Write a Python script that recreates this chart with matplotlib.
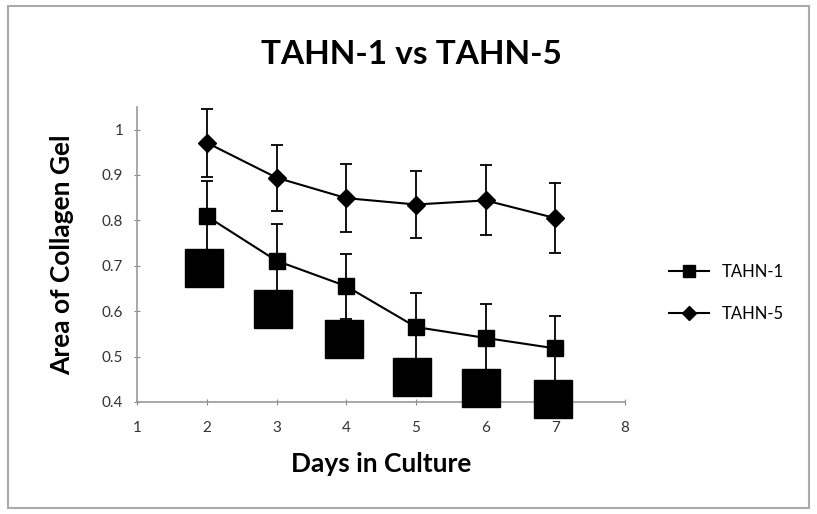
import numpy as np
import matplotlib.pyplot as plt
from matplotlib.patches import Rectangle

# data
days = [2, 3, 4, 5, 6, 7]
tahn1 = [0.809, 0.711, 0.655, 0.565, 0.541, 0.518]
tahn1_err = [0.077, 0.080, 0.072, 0.075, 0.075, 0.072]
tahn5 = [0.971, 0.894, 0.849, 0.835, 0.844, 0.805]
tahn5_err = [0.075, 0.073, 0.075, 0.074, 0.077, 0.077]
# the big black squares (no legend entry)
big_x = [1.96, 2.95, 3.97, 4.95, 5.94, 6.96]
big_y = [0.695, 0.604, 0.538, 0.456, 0.431, 0.406]

xticks = [1, 2, 3, 4, 5, 6, 7, 8]
yticks = [0.4, 0.5, 0.6, 0.7, 0.8, 0.9, 1.0]
ytick_labels = ['0.4', '0.5', '0.6', '0.7', '0.8', '0.9', '1']

plt.rcParams['font.family'] = ['Lato', 'DejaVu Sans']

fig = plt.figure(figsize=(8.17, 5.14), dpi=100)
ax = fig.add_axes([0.168, 0.218, 0.597, 0.574])

ax.errorbar(days, tahn1, yerr=tahn1_err, color='black', lw=1.5, marker='s', ms=11,
            capsize=4, elinewidth=1.3, capthick=1.3, label='TAHN-1', zorder=3)
ax.errorbar(days, tahn5, yerr=tahn5_err, color='black', lw=1.5, marker='D', ms=9,
            capsize=4, elinewidth=1.3, capthick=1.3, label='TAHN-5', zorder=3)
ax.plot(big_x, big_y, ls='none', marker='s', ms=27, color='black', zorder=4,
        clip_on=False)

ax.set_xlim(1, 8)
ax.set_ylim(0.4, 1.05)
ax.set_xticks(xticks)
ax.set_yticks(yticks)
ax.set_yticklabels(ytick_labels)
ax.tick_params(axis='both', colors='#888888', labelcolor='#333333', labelsize=11,
               length=4, direction='inout')
ax.tick_params(axis='x', pad=12)
ax.tick_params(axis='y', pad=8)
for s in ['top', 'right']:
    ax.spines[s].set_visible(False)
for s in ['left', 'bottom']:
    ax.spines[s].set_color('#999999')
    ax.spines[s].set_linewidth(1.2)

fig.text(0.503, 0.893, 'TAHN-1 vs TAHN-5', fontsize=24, fontweight='bold',
         ha='center', va='center')
ax.set_xlabel('Days in Culture', fontsize=19, fontweight='bold', labelpad=12)
ax.set_ylabel('Area of Collagen Gel', fontsize=19, fontweight='bold', labelpad=20)

h, l = ax.get_legend_handles_labels()
h = [x[0] for x in h]
fig.legend(h, l, loc='center left', bbox_to_anchor=(0.8, 0.43), frameon=False,
           fontsize=12, handlelength=2.4, markerscale=0.8, labelspacing=1.6)

fig.patches.append(Rectangle((0.01, 0.012), 0.98, 0.976, transform=fig.transFigure,
                             fill=False, edgecolor='#aaaaaa', lw=1.5))

fig.savefig('out.png', dpi=100)
